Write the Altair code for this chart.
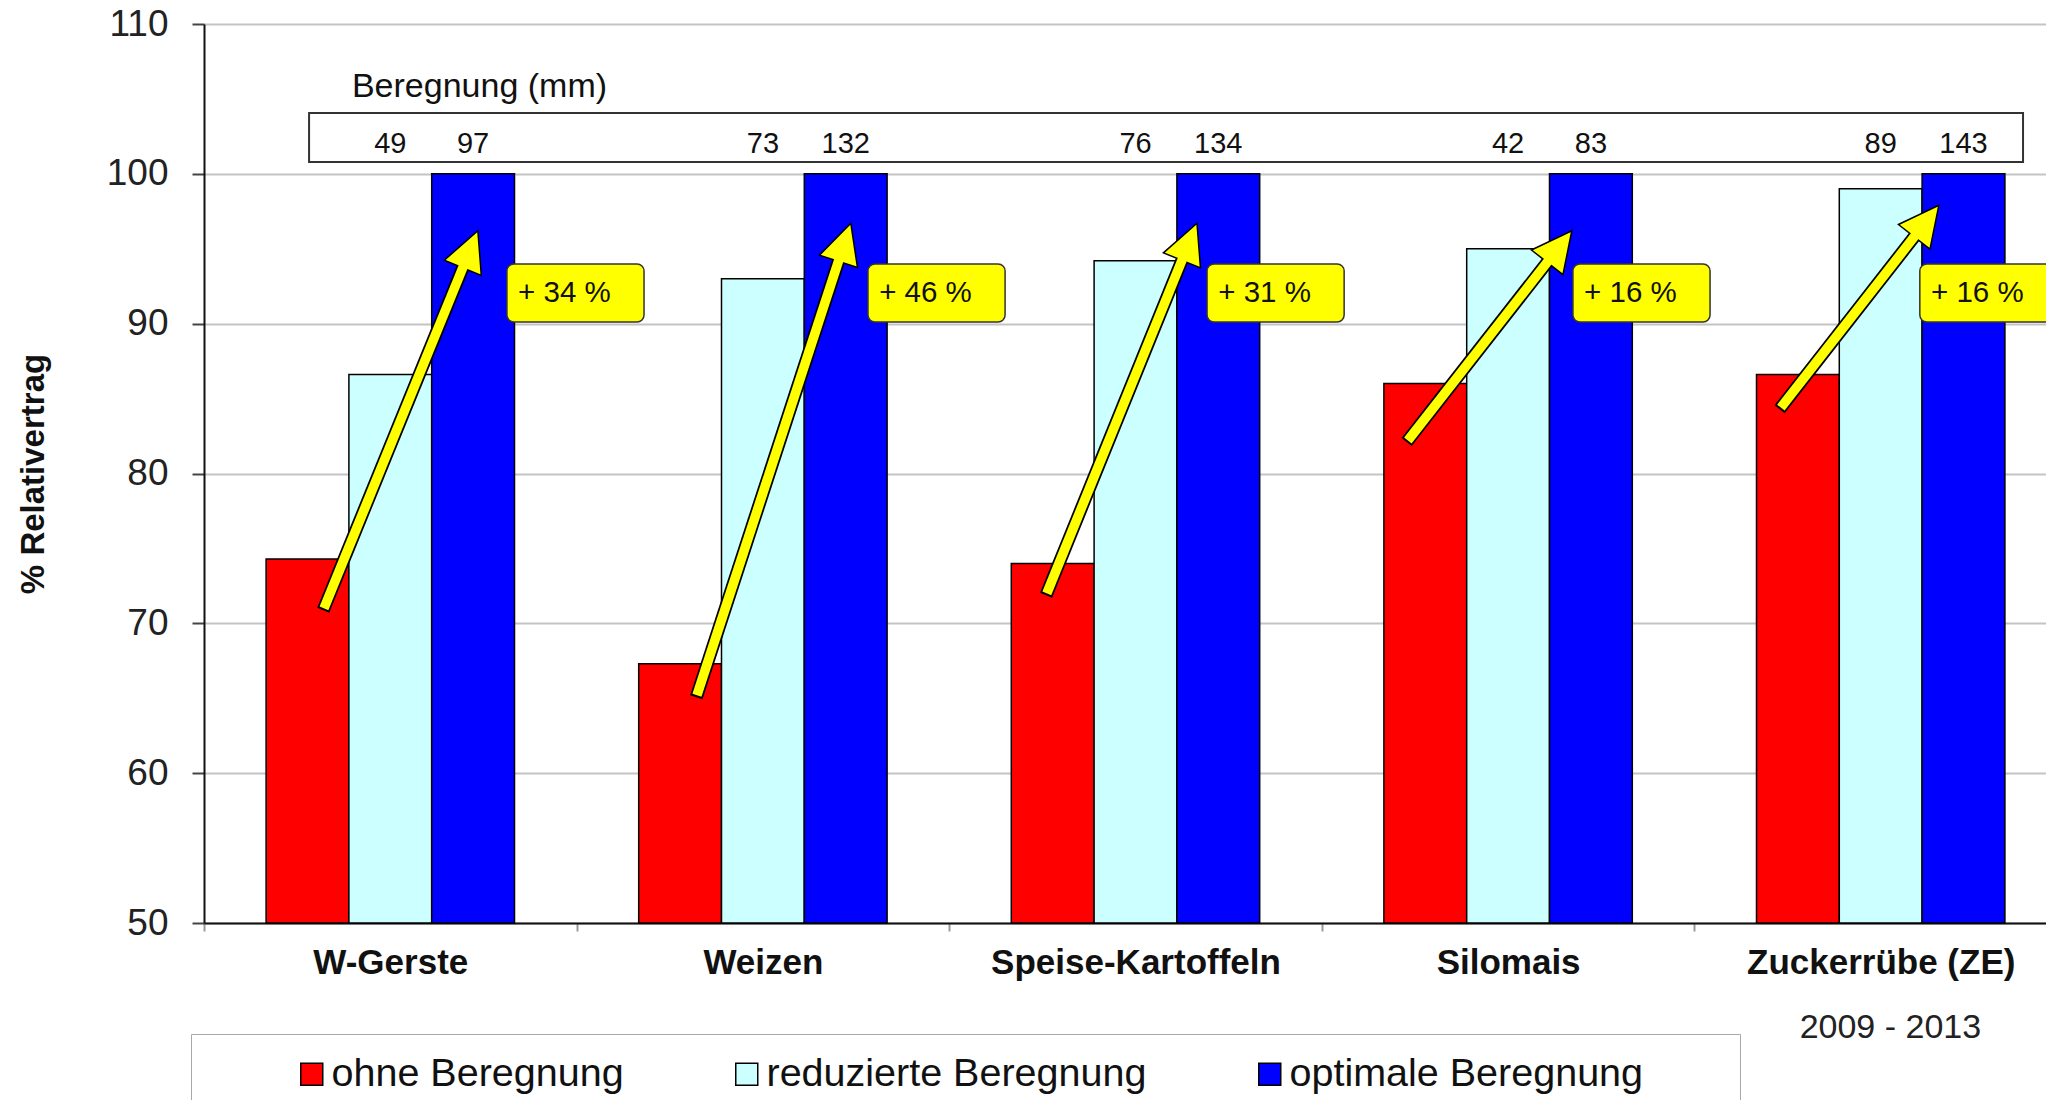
import math
import altair as alt
import pandas as pd

# ---------------- data ----------------
crops = ["W-Gerste", "Weizen", "Speise-Kartoffeln", "Silomais", "Zuckerrübe (ZE)"]
series = ["ohne Beregnung", "reduzierte Beregnung", "optimale Beregnung"]
ohne = [74.3, 67.3, 74.0, 86.0, 86.6]
reduziert = [86.6, 93.0, 94.2, 95.0, 99.0]
optimal = [100.0, 100.0, 100.0, 100.0, 100.0]
mm_reduziert = [49, 73, 76, 42, 89]
mm_optimal = [97, 132, 134, 83, 143]
gain_labels = ["+ 34 %", "+ 46 %", "+ 31 %", "+ 16 %", "+ 16 %"]
period = "2009 - 2013"

# ---------------- annotation anchors (x in category units, y in %) ----------------
arrow_tail_x = [0.322, 1.323, 2.262, 3.231, 4.232]
arrow_tail_y = [71.0, 65.2, 72.0, 82.2, 84.4]
arrow_tip_x = [0.735, 1.736, 2.665, 3.671, 4.656]
arrow_tip_y = [96.2, 96.7, 96.7, 96.2, 97.9]
gain_box_x = [0.813, 1.782, 2.692, 3.674, 4.605]

# ---------------- layout ----------------
PLOT_W = 1842
PLOT_H = 899
X_RANGE = 1863            # five full bands; the last one is cut at the edge
PX_X = X_RANGE / 5
PX_Y = PLOT_H / 60
FONT = "Liberation Sans"
COLORS = ["#ff0000", "#ccffff", "#0000ff"]
YELLOW = "#ffff00"

bars_df = pd.DataFrame(
    [{"crop": c, "series": s, "value": v}
     for s, vals in zip(series, [ohne, reduziert, optimal])
     for c, v in zip(crops, vals)]
)
mm_df = pd.DataFrame(
    [{"crop": c, "series": series[1], "mm": m} for c, m in zip(crops, mm_reduziert)]
    + [{"crop": c, "series": series[2], "mm": m} for c, m in zip(crops, mm_optimal)]
)

arrow_rows = []
for i in range(len(crops)):
    tx, ty = arrow_tail_x[i], arrow_tail_y[i]
    dxp = (arrow_tip_x[i] - tx) * PX_X
    dyp = (arrow_tip_y[i] - ty) * PX_Y
    L = math.hypot(dxp, dyp)
    ux, uy = dxp / L, dyp / L

    def at(d):
        return tx + ux * d / PX_X, ty + uy * d / PX_Y

    bx0, by0 = at(-2)
    bx1, by1 = at(L - 38)
    yx1, yy1 = at(L - 30)
    hx, hy = at(L - 20)
    arrow_rows.append({
        "bx0": bx0, "by0": by0, "bx1": bx1, "by1": by1,
        "yx0": tx, "yy0": ty, "yx1": yx1, "yy1": yy1,
        "hx": hx, "hy": hy, "angle": math.degrees(math.atan2(ux, uy)) % 360,
    })
arrows_df = pd.DataFrame(arrow_rows)

gain_df = pd.DataFrame({
    "x0": gain_box_x,
    "x1": [x + 0.368 for x in gain_box_x],
    "xt": [x + 0.03 for x in gain_box_x],
    "label": gain_labels,
})

# ---------------- scales / axes ----------------
Y_SCALE = alt.Scale(domain=[50, 110], nice=False, zero=False)
Y_AXIS = alt.Axis(
    values=list(range(50, 111, 10)), title="% Relativertrag",
    titleFontSize=33, titleFontWeight="bold", titleColor="#111", titlePadding=56,
    labelFontSize=37, labelColor="#222", labelPadding=24,
    tickSize=12, tickColor="#444", tickWidth=2,
    domainColor="#111", domainWidth=2,
    gridColor="#c4c4c4", gridWidth=2,
)
X_LIN = alt.Scale(domain=[0, 5], range=[0, X_RANGE], nice=False, zero=False)
BAND = alt.Scale(range=[0, X_RANGE], paddingInner=0, paddingOuter=0)
OFFSET = alt.Scale(paddingInner=0, paddingOuter=0.75)

PAD_END = "       \u200b"   # keeps the framed legend as wide as the original
legend = alt.Legend(
    orient="none", legendX=-13, legendY=1010, direction="horizontal",
    title=" ", titleOrient="left", titleFontSize=1, titlePadding=81,
    padding=20, strokeColor="#a8a8a8",
    symbolType="square", symbolSize=484, symbolStrokeColor="black",
    symbolStrokeWidth=1.5, symbolOpacity=1,
    labelFontSize=39.5, labelFont=FONT, labelColor="#111", labelOffset=0,
    labelLimit=0, columnPadding=103,
    labelExpr="datum.label == 'optimale Beregnung' ? datum.label + '" + PAD_END + "' : datum.label",
)

bars = alt.Chart(bars_df).mark_bar(stroke="black", strokeWidth=1.5).encode(
    x=alt.X("crop:N", sort=crops, scale=BAND, axis=alt.Axis(
        title=None, labelAngle=0, labelFontSize=35, labelFontWeight="bold",
        labelColor="#111", labelLimit=0, tickBand="extent", tickSize=8, tickColor="#999",
        tickWidth=2, domainColor="#111", domainWidth=2, labelPadding=14, grid=False)),
    xOffset=alt.XOffset("series:N", sort=series, scale=OFFSET),
    y=alt.Y("value:Q", scale=Y_SCALE, axis=Y_AXIS),
    y2=alt.datum(50),
    color=alt.Color("series:N", sort=series,
                    scale=alt.Scale(domain=series, range=COLORS), legend=legend),
)

box = alt.Chart(pd.DataFrame({"x0": [0.282], "x1": [4.882], "y0": [100.79], "y1": [104.06]})).mark_rect(
    fillOpacity=0, stroke="#333", strokeWidth=2
).encode(
    x=alt.X("x0:Q", scale=X_LIN, axis=None), x2="x1:Q",
    y=alt.Y("y0:Q", scale=Y_SCALE, axis=Y_AXIS), y2="y1:Q",
)

box_title = alt.Chart(pd.DataFrame({"x": [0.397], "y": [105.13], "t": ["Beregnung (mm)"]})).mark_text(
    align="left", baseline="alphabetic", fontSize=34, font=FONT, color="#111"
).encode(
    x=alt.X("x:Q", scale=X_LIN, axis=None),
    y=alt.Y("y:Q", scale=Y_SCALE, axis=Y_AXIS), text="t:N",
)

mm_text = alt.Chart(mm_df).mark_text(
    baseline="alphabetic", fontSize=29, font=FONT, color="#111"
).encode(
    x=alt.X("crop:N", sort=crops, scale=BAND, axis=None),
    xOffset=alt.XOffset("series:N", sort=series, scale=OFFSET),
    y=alt.datum(101.39),
    text="mm:Q",
)

shaft_black = alt.Chart(arrows_df).mark_rule(stroke="black", strokeWidth=13, strokeCap="butt").encode(
    x=alt.X("bx0:Q", scale=X_LIN, axis=None), x2="bx1:Q",
    y=alt.Y("by0:Q", scale=Y_SCALE, axis=Y_AXIS), y2="by1:Q",
)
heads = alt.Chart(arrows_df).mark_point(
    shape="M0,-1L1,1L-1,1Z", filled=True, fill=YELLOW, stroke="black",
    strokeWidth=1.5, size=1600, opacity=1
).encode(
    x=alt.X("hx:Q", scale=X_LIN, axis=None),
    y=alt.Y("hy:Q", scale=Y_SCALE, axis=Y_AXIS),
    angle=alt.Angle("angle:Q", scale=None),
)
shaft_yellow = alt.Chart(arrows_df).mark_rule(stroke=YELLOW, strokeWidth=9.5, strokeCap="butt").encode(
    x=alt.X("yx0:Q", scale=X_LIN, axis=None), x2="yx1:Q",
    y=alt.Y("yy0:Q", scale=Y_SCALE, axis=Y_AXIS), y2="yy1:Q",
)

gain_boxes = alt.Chart(gain_df).mark_rect(
    fill=YELLOW, stroke="#333", strokeWidth=1.5, cornerRadius=7
).encode(
    x=alt.X("x0:Q", scale=X_LIN, axis=None), x2="x1:Q",
    y=alt.datum(90.11), y2=alt.datum(93.98),
)
gain_text = alt.Chart(gain_df).mark_text(
    align="left", baseline="middle", fontSize=29.5, font=FONT, color="#111"
).encode(
    x=alt.X("xt:Q", scale=X_LIN, axis=None),
    y=alt.datum(92.05),
    text="label:N",
)

year = alt.Chart(pd.DataFrame({"x": [4.526], "y": [42.99], "t": [period]})).mark_text(
    align="center", baseline="middle", fontSize=34, font=FONT, color="#222"
).encode(
    x=alt.X("x:Q", scale=X_LIN, axis=None),
    y=alt.Y("y:Q", scale=Y_SCALE, axis=Y_AXIS), text="t:N",
)

chart = alt.layer(
    bars, box, box_title, mm_text, shaft_black, heads, shaft_yellow,
    gain_boxes, gain_text, year,
).resolve_scale(x="independent").properties(
    width=PLOT_W, height=PLOT_H,
    padding={"left": 196, "top": 16, "right": 0, "bottom": 177},
    autosize=alt.AutoSizeParams(type="none"),
).configure(font=FONT).configure_view(stroke=None)

chart.save("out.html", embed_options={"renderer": "svg", "actions": False})
